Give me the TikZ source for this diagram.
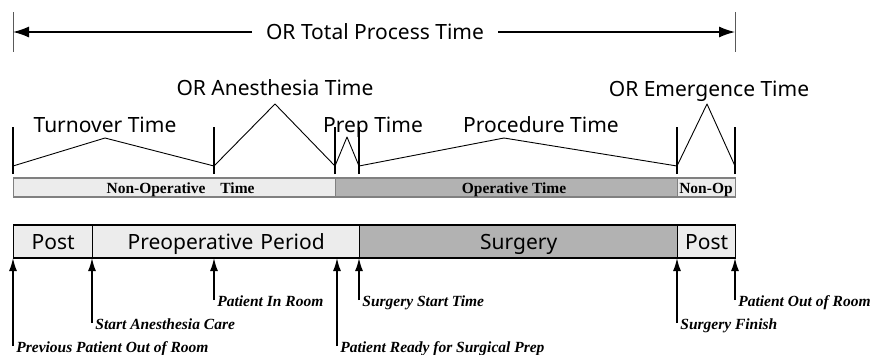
\documentclass[tikz,border=0pt]{standalone}
\usepackage{fontspec}
\setmainfont{Liberation Serif}
\newfontfamily\uifont{Noto Sans}
\usepackage{tikz}
\usetikzlibrary{arrows.meta,positioning,calc}

\definecolor{lightband}{HTML}{ECECEC}
\definecolor{darkband}{HTML}{B2B2B2}

\begin{document}
\begin{tikzpicture}[x=1pt, y=-1pt, thick,
  every node/.style={inner sep=0pt},
  big/.style={font=\uifont\fontsize{21}{24}\selectfont},
  span/.style={big, anchor=base},
  seg/.style={draw=black, line width=1.4pt, minimum height=33pt, text height=15pt, text depth=0pt, big},
  band/.style={draw=gray, line width=1.2pt, minimum height=19pt},
  bandtxt/.style={font=\bfseries\fontsize{15.5}{18}\selectfont},
  evt/.style={anchor=base west, font=\bfseries\itshape\fontsize{15.5}{18}\selectfont},
  tick/.style={line width=1.8pt},
  up/.style={-{Latex[length=13pt,width=8pt]}, line width=1.6pt},
  peak/.style={line width=0.9pt, line join=round}]
  \useasboundingbox (0,0) rectangle (870,354);

  % total process time
  \node[span] (total) at (375,39) {OR Total Process Time};
  \coordinate (tl) at (13,32);
  \coordinate (tr) at (735,32);
  \draw[line width=0.8pt, gray!70!black] (13,12) -- (13,52) (735,12) -- (735,52);
  \draw[-{Latex[length=16pt,width=11pt]}, line width=1.3pt] (252,32) -- (tl);
  \draw[-{Latex[length=16pt,width=11pt]}, line width=1.3pt] (498,32) -- (tr);

  % boundaries on the baseline
  \coordinate (b0) at (13,166);
  \coordinate (b1) at (214,166);
  \coordinate (b2) at (335,166);
  \coordinate (b3) at (359,166);
  \coordinate (b4) at (677,166);
  \coordinate (b5) at (735,166);

  % time spans
  \node[span] (turn) at (105,132) {Turnover Time};
  \node[span] (anes) at (275,95) {OR Anesthesia Time};
  \node[span] (prep) at (373,132) {Prep Time};
  \node[span] (proc) at (541,132) {Procedure Time};
  \node[span] (emer) at (709,96) {OR Emergence Time};
  \coordinate (pk1) at (105,138);
  \coordinate (pk2) at (275,104);
  \coordinate (pk3) at (347,137);
  \coordinate (pk4) at (504,138);
  \coordinate (pk5) at (707,104);
  \draw[peak] (b0) -- (pk1) -- (b1) -- (pk2) -- (b2) -- (pk3) -- (b3) -- (pk4) -- (b4) -- (pk5) -- (b5);

  % operative band
  \node[band, fill=lightband, minimum width=322pt, anchor=west] (nonop) at (13,187.5) {};
  \node[band, fill=darkband, minimum width=342pt, anchor=west] (oper) at (335,187.5) {};
  \node[band, fill=lightband, minimum width=58pt, anchor=west] (nonop2) at (677,187.5) {};
  \node[bandtxt, anchor=base east] (nonoplab) at (206,193) {Non-Operative};
  \node[bandtxt, anchor=base west] (timelab) at (220,193) {Time};
  \node[bandtxt, anchor=base] (operlab) at (514,193) {Operative Time};
  \node[bandtxt, anchor=base] (noplab) at (706,193) {Non-Op};
  \foreach \b in {b0,b1,b2,b3,b4,b5}
    \draw[tick] ([yshift=-8pt]\b) -- ([yshift=39pt]\b);

  % periods
  \node[seg, fill=lightband, minimum width=79pt, anchor=west] (post1) at (13,241.5) {Post};
  \node[seg, fill=lightband, minimum width=267pt, anchor=west, text width=245pt, align=center] (preop) at (92,241.5) {Preoperative Period};
  \node[seg, fill=darkband, minimum width=318pt, anchor=west] (surg) at (359,241.5) {Surgery};
  \node[seg, fill=lightband, minimum width=58pt, anchor=west] (post2) at (677,241.5) {Post};

  % events
  \foreach \x/\y/\n/\txt in {13/346/e1/Previous Patient Out of Room,
                             92/323/e2/Start Anesthesia Care,
                             214/300/e3/Patient In Room,
                             337/346/e4/Patient Ready for Surgical Prep,
                             359/300/e5/Surgery Start Time,
                             677/323/e6/Surgery Finish,
                             735/300/e7/Patient Out of Room}{
    \node[evt] (\n) at (\x+3,\y+6) {\txt};
    \draw[up] (\x,\y) -- (\x,258);
  }
\end{tikzpicture}
\end{document}
